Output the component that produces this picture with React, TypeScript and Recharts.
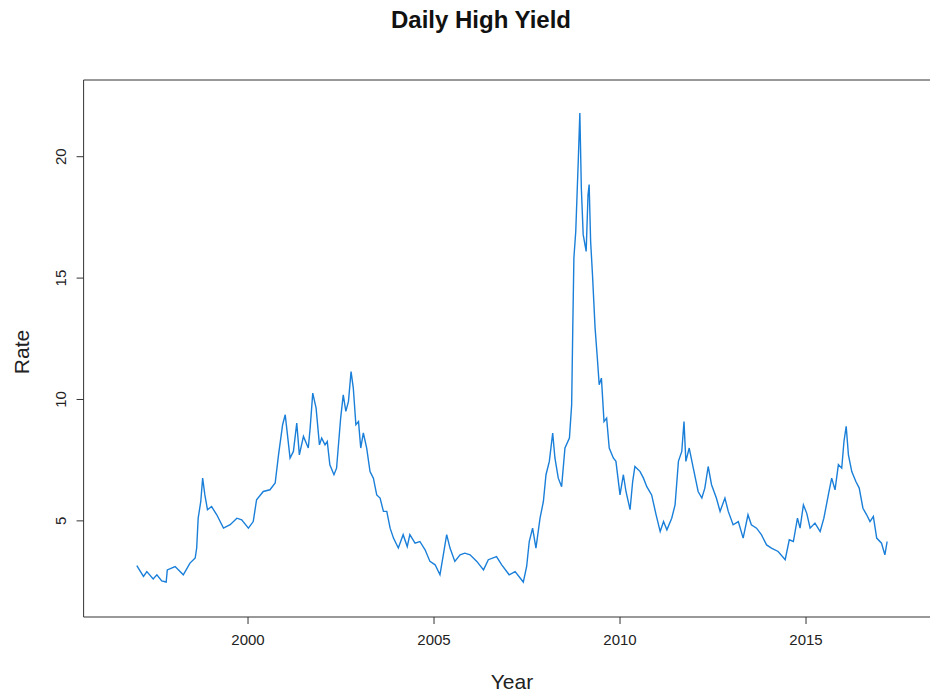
import { LineChart, Line, XAxis, YAxis } from 'recharts';

// Daily high yield rate
const years = [
  1997.01, 1997.19, 1997.28, 1997.45, 1997.55, 1997.68, 1997.8, 1997.83, 1998.04, 1998.26,
  1998.44, 1998.58, 1998.62, 1998.66, 1998.73, 1998.78, 1998.84, 1998.91, 1999.02, 1999.16,
  1999.34, 1999.52, 1999.7, 1999.83, 2000.01, 2000.14, 2000.23, 2000.41, 2000.59, 2000.73,
  2000.82, 2000.93, 2001.0, 2001.04, 2001.13, 2001.22, 2001.31, 2001.38, 2001.49, 2001.62,
  2001.67, 2001.74, 2001.83, 2001.92, 2001.98, 2002.07, 2002.13, 2002.2, 2002.31, 2002.38,
  2002.49, 2002.56, 2002.63, 2002.7, 2002.77, 2002.83, 2002.9, 2002.97, 2003.03, 2003.1,
  2003.19, 2003.28, 2003.37, 2003.46, 2003.55, 2003.64, 2003.73, 2003.82, 2003.91, 2004.04,
  2004.17, 2004.28, 2004.35, 2004.49, 2004.62, 2004.76, 2004.89, 2005.03, 2005.16, 2005.25,
  2005.34, 2005.43, 2005.56, 2005.7, 2005.83, 2005.97, 2006.15, 2006.33, 2006.46, 2006.68,
  2006.82, 2007.02, 2007.18, 2007.4, 2007.49, 2007.56, 2007.65, 2007.74, 2007.85, 2007.94,
  2008.01, 2008.1, 2008.19, 2008.25, 2008.34, 2008.43, 2008.52, 2008.64, 2008.7, 2008.73,
  2008.76, 2008.81, 2008.88, 2008.92, 2008.96, 2009.01, 2009.09, 2009.14, 2009.17, 2009.21,
  2009.26, 2009.33, 2009.39, 2009.44, 2009.5, 2009.57, 2009.64, 2009.71, 2009.82, 2009.89,
  2010.0, 2010.09, 2010.16, 2010.27, 2010.34, 2010.4, 2010.54, 2010.63, 2010.72, 2010.85,
  2010.97, 2011.08, 2011.17, 2011.26, 2011.39, 2011.48, 2011.57, 2011.66, 2011.72, 2011.77,
  2011.86, 2011.97, 2012.1, 2012.2, 2012.28, 2012.37, 2012.46, 2012.59, 2012.69, 2012.82,
  2012.91, 2013.04, 2013.18, 2013.31, 2013.44, 2013.53, 2013.67, 2013.8, 2013.94, 2014.07,
  2014.25, 2014.44, 2014.55, 2014.66, 2014.77, 2014.84, 2014.93, 2015.02, 2015.11, 2015.24,
  2015.38, 2015.48, 2015.6, 2015.69, 2015.78, 2015.87, 2015.96, 2016.02, 2016.08, 2016.14,
  2016.23, 2016.34, 2016.43, 2016.53, 2016.63, 2016.72, 2016.81, 2016.9, 2017.03, 2017.12,
  2017.18,
];

const rates = [
  3.16, 2.71, 2.91, 2.61, 2.78, 2.53, 2.48, 2.98, 3.12, 2.78,
  3.26, 3.47, 3.88, 5.11, 5.8, 6.76, 6.07, 5.46, 5.59, 5.25,
  4.7, 4.84, 5.11, 5.04, 4.7, 4.97, 5.87, 6.21, 6.28, 6.56,
  7.72, 8.96, 9.37, 8.82, 7.59, 7.86, 9.03, 7.72, 8.48, 8.0,
  8.82, 10.26, 9.64, 8.13, 8.41, 8.13, 8.27, 7.31, 6.9, 7.17,
  9.23, 10.19, 9.51, 9.92, 11.15, 10.47, 8.96, 9.09, 8.0, 8.62,
  8.0, 7.03, 6.76, 6.07, 5.94, 5.39, 5.39, 4.7, 4.29, 3.88,
  4.43, 3.94, 4.43, 4.08, 4.15, 3.81, 3.33, 3.19, 2.78, 3.6,
  4.43, 3.88, 3.33, 3.6, 3.67, 3.6, 3.33, 2.98, 3.4, 3.53,
  3.19, 2.78, 2.91, 2.48, 3.12, 4.15, 4.7, 3.88, 5.11, 5.8,
  6.9, 7.45, 8.62, 7.59, 6.76, 6.41, 8.0, 8.41, 9.78, 12.94,
  15.83, 16.92, 19.94, 21.8, 18.71, 16.79, 16.1, 18.43, 18.85, 16.51,
  15.14, 12.94, 11.71, 10.61, 10.88, 9.09, 9.23, 8.0, 7.59, 7.45,
  6.07, 6.9, 6.21, 5.46, 6.62, 7.24, 7.03, 6.76, 6.41, 6.07,
  5.25, 4.56, 4.97, 4.63, 5.11, 5.66, 7.45, 7.86, 9.09, 7.45,
  8.0, 7.17, 6.21, 5.94, 6.35, 7.24, 6.49, 5.94, 5.39, 5.94,
  5.39, 4.84, 4.97, 4.29, 5.25, 4.84, 4.7, 4.43, 4.01, 3.88,
  3.74, 3.4, 4.22, 4.15, 5.11, 4.7, 5.66, 5.31, 4.7, 4.91,
  4.56, 5.11, 6.07, 6.76, 6.28, 7.32, 7.17, 8.27, 8.89, 7.72,
  7.03, 6.62, 6.35, 5.52, 5.25, 4.97, 5.18, 4.29, 4.08, 3.6,
  4.15,
];

const yearTicks = [2000, 2005, 2010, 2015];
const rateTicks = [5, 10, 15, 20];

const data = years.map((year, i) => ({ year, rate: rates[i] }));

const FONT = '"Liberation Sans", Arial, sans-serif';
const INK = '#222';
const FRAME = '#333';

// lattice puts the left labels on their side
const RateTick = ({ y, payload }: any) => (
  <text
    x={66}
    y={y}
    transform={`rotate(-90 66 ${y})`}
    textAnchor="middle"
    fontSize={15}
    fontFamily={FONT}
    fill={INK}
  >
    {payload.value}
  </text>
);

const YearTick = ({ x, payload }: any) => (
  <text x={x} y={645} textAnchor="middle" fontSize={15} fontFamily={FONT} fill={INK}>
    {payload.value}
  </text>
);

export default function App() {
  return (
    <div
      style={{
        position: 'absolute',
        left: 0,
        top: 0,
        width: 930,
        height: 694,
        overflow: 'hidden',
        background: '#fff',
      }}
    >
      <div
        style={{
          position: 'absolute',
          top: 6,
          left: 0,
          width: 962,
          textAlign: 'center',
          fontFamily: FONT,
          fontWeight: 'bold',
          fontSize: 24,
          lineHeight: '28px',
          color: '#111',
        }}
      >
        Daily High Yield
      </div>

      <LineChart width={962} height={694} data={data} margin={{ top: 79, right: 17.6, bottom: 0, left: 0 }}>
        <XAxis
          xAxisId="top"
          orientation="top"
          dataKey="year"
          type="number"
          domain={[1995.58, 2018.72]}
          ticks={yearTicks}
          height={1}
          tick={false}
          tickSize={7}
          stroke={FRAME}
          allowDataOverflow
        />
        <XAxis
          dataKey="year"
          type="number"
          domain={[1995.58, 2018.72]}
          ticks={yearTicks}
          height={77}
          tick={YearTick}
          tickSize={7}
          stroke={FRAME}
          allowDataOverflow
          label={{
            content: () => (
              <text x={512} y={689} textAnchor="middle" fontSize={21} fontFamily={FONT} fill={INK}>
                Year
              </text>
            ),
          }}
        />
        <YAxis
          type="number"
          domain={[1.04, 23.16]}
          ticks={rateTicks}
          width={83.6}
          tick={RateTick}
          tickSize={7}
          stroke={FRAME}
          allowDataOverflow
          label={{
            content: () => (
              <text
                x={29}
                y={352}
                transform="rotate(-90 29 352)"
                textAnchor="middle"
                fontSize={21}
                fontFamily={FONT}
                fill={INK}
              >
                Rate
              </text>
            ),
          }}
        />
        <Line
          type="linear"
          dataKey="rate"
          stroke="#1a7fd9"
          strokeWidth={1.4}
          dot={false}
          isAnimationActive={false}
        />
      </LineChart>
    </div>
  );
}
